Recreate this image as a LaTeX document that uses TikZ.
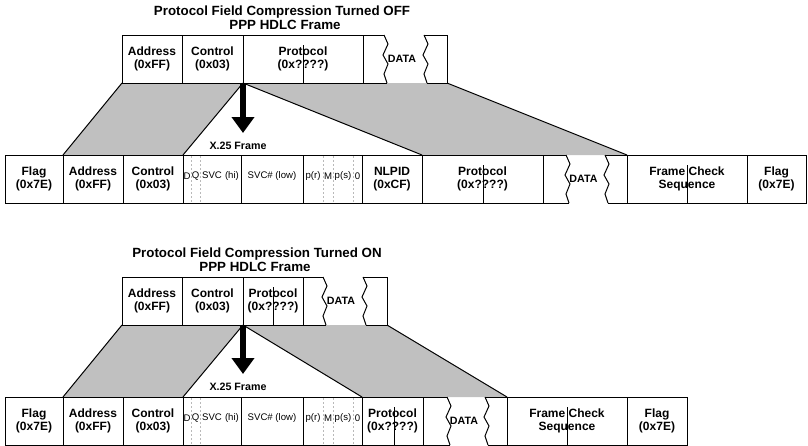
\documentclass[tikz,border=0pt]{standalone}
\usepackage{fontspec}
\setmainfont{Liberation Sans}
\usetikzlibrary{arrows.meta,backgrounds}
\definecolor{silver}{HTML}{C0C0C0}
\tikzset{
  field/.style={draw, line width=0.75pt, inner sep=0pt, outer sep=0pt, minimum height=36pt, align=center, font=\bfseries\fontsize{9}{9.8}\selectfont},
  blank/.style={inner sep=0pt, outer sep=0pt, minimum height=36pt},
  tiny/.style={inner sep=0pt, font=\fontsize{7.2}{8}\selectfont},
  datatext/.style={inner sep=0pt, font=\bfseries\fontsize{8}{9}\selectfont},
  title/.style={inner sep=0pt, anchor=base, font=\bfseries\fontsize{10}{11}\selectfont},
  lbl/.style={inner sep=0pt, anchor=base, font=\bfseries\fontsize{8}{9}\selectfont},
  bigarrow/.style={line width=4.5pt, -{Triangle[width=16.5pt,length=12pt]}},
  sepline/.style={gray!55, line width=0.75pt, dash pattern=on 1.5pt off 1.5pt},
  edge/.style={line width=0.75pt}
}
% field: name, left x, right x, top y, text
\newcommand{\field}[5]{\node[field, minimum width={(#3-#2)*0.75pt}, anchor=north west] (#1) at (#2,#4) {#5};}
% data field: name, left x, right x, top y, left zigzag x, right zigzag x
\newcommand{\datafield}[6]{\node[blank, minimum width={(#3-#2)*0.75pt}, anchor=north west] (#1) at (#2,#4) {};
  \draw[edge] (#2,#4) -- (#5,#4) (#6,#4) -- (#3,#4) -- (#3,#4+48) -- (#6+3,#4+48) (#5+3,#4+48) -- (#2,#4+48);
  \draw[edge] (#5,#4) -- ++(4,9) -- ++(-5,11) -- ++(5,9) -- ++(-4,10) -- ++(3,9);
  \draw[edge] (#6,#4) -- ++(4,9) -- ++(-5,11) -- ++(5,9) -- ++(-4,10) -- ++(3,9);
  \node[datatext] (#1t) at (#5*0.5+#6*0.5-2,#4+24) {DATA};}
\newcommand{\midline}[2]{\draw[edge] (#1,#2+10) -- (#1,#2+48);}
\newcommand{\dotsep}[2]{\draw[sepline] (#1,#2+1) -- (#1,#2+47);}
% X.25 header fields: prefix, top y
\newcommand{\xfields}[2]{\field{#1h}{183}{241}{#2}{}
  \field{#1l}{241}{303}{#2}{}
  \field{#1s}{303}{362}{#2}{}
  \dotsep{191}{#2} \dotsep{200}{#2} \dotsep{323}{#2} \dotsep{333}{#2} \dotsep{353}{#2}
  \node[tiny] (#1d) at (187,#2+21) {D};
  \node[tiny] (#1q) at (195.5,#2+21) {Q};
  \node[tiny] (#1hi) at (220.5,#2+21) {SVC\,\,(hi)};
  \node[tiny] (#1lo) at (272,#2+21) {SVC\# (low)};
  \node[tiny] (#1pr) at (313,#2+21) {p(r)};
  \node[tiny] (#1m) at (328,#2+21) {M};
  \node[tiny] (#1ps) at (343,#2+21) {p(s)};
  \node[tiny] (#1z) at (357.5,#2+21) {0};}

\begin{document}
\begin{tikzpicture}[x=0.75pt,y=-0.75pt]
\useasboundingbox (0,0) rectangle (808,446);
% ---- compression off ----
\node[title] (ttl1) at (282,16) {Protocol Field Compression Turned OFF};
\node[title] (sub1) at (285,30) {PPP HDLC Frame};
% row1 top
\field{adr1}{122}{182}{35}{Address\\(0xFF)}
\field{ctl1}{182}{243}{35}{Control\\(0x03)}
\field{pro1}{243}{363}{35}{Protocol\\(0x????)}
\datafield{dat1}{363}{447}{35}{384}{424}
% row1 bottom
\field{flg1b}{5}{63}{155}{Flag\\(0x7E)}
\field{adr1b}{63}{123}{155}{Address\\(0xFF)}
\field{ctl1b}{123}{183}{155}{Control\\(0x03)}
\field{nlp1b}{362}{422}{155}{NLPID\\(0xCF)}
\field{pro1b}{422}{543}{155}{Protocol\\(0x????)}
\datafield{dat1b}{543}{627}{155}{566}{605}
\field{fcs1b}{627}{747}{155}{Frame Check\\Sequence}
\field{end1b}{747}{806}{155}{Flag\\(0x7E)}
\xfields{xa}{155}
% gray mapping
\begin{scope}[on background layer]
\fill[silver] (adr1.south west) -- (ctl1.south east) -- (ctl1b.north east) -- (adr1b.north west) -- cycle;
\fill[silver] (ctl1.south east) -- (dat1.south east) -- (fcs1b.north west) -- (pro1b.north west) -- cycle;
\end{scope}
\draw[edge] (adr1.south west) -- (adr1b.north west);
\draw[edge] (ctl1.south east) -- (ctl1b.north east);
\draw[edge] (ctl1.south east) -- (pro1b.north west);
\draw[edge] (dat1.south east) -- (fcs1b.north west);
\midline{303}{35}
\midline{483}{155}
\midline{687}{155}
\coordinate (tip1) at (243,133);
\draw[bigarrow] (ctl1.south east) -- (tip1);
\node[lbl] (xl1) at (238,149) {X.25 Frame};
% ---- compression on ----
\node[title] (ttl2) at (257,257) {Protocol Field Compression Turned ON};
\node[title] (sub2) at (255,271) {PPP HDLC Frame};
% row2 top
\field{adr2}{122}{182}{277}{Address\\(0xFF)}
\field{ctl2}{182}{243}{277}{Control\\(0x03)}
\field{pro2}{243}{303}{277}{Protocol\\(0x????)}
\datafield{dat2}{303}{387}{277}{323}{363}
% row2 bottom
\field{flg2b}{5}{63}{397}{Flag\\(0x7E)}
\field{adr2b}{63}{123}{397}{Address\\(0xFF)}
\field{ctl2b}{123}{183}{397}{Control\\(0x03)}
\field{pro2b}{362}{423}{397}{Protocol\\(0x????)}
\datafield{dat2b}{423}{507}{397}{447}{485}
\field{fcs2b}{507}{627}{397}{Frame Check\\Sequence}
\field{end2b}{627}{687}{397}{Flag\\(0x7E)}
\xfields{xb}{397}
% gray mapping
\begin{scope}[on background layer]
\fill[silver] (adr2.south west) -- (ctl2.south east) -- (ctl2b.north east) -- (adr2b.north west) -- cycle;
\fill[silver] (ctl2.south east) -- (dat2.south east) -- (fcs2b.north west) -- (pro2b.north west) -- cycle;
\end{scope}
\draw[edge] (adr2.south west) -- (adr2b.north west);
\draw[edge] (ctl2.south east) -- (ctl2b.north east);
\draw[edge] (ctl2.south east) -- (pro2b.north west);
\draw[edge] (dat2.south east) -- (fcs2b.north west);
\midline{273}{277}
\midline{394}{397}
\midline{567}{397}
\coordinate (tip2) at (243,374);
\draw[bigarrow] (ctl2.south east) -- (tip2);
\node[lbl] (xl2) at (238,390) {X.25 Frame};
\end{tikzpicture}
\end{document}
